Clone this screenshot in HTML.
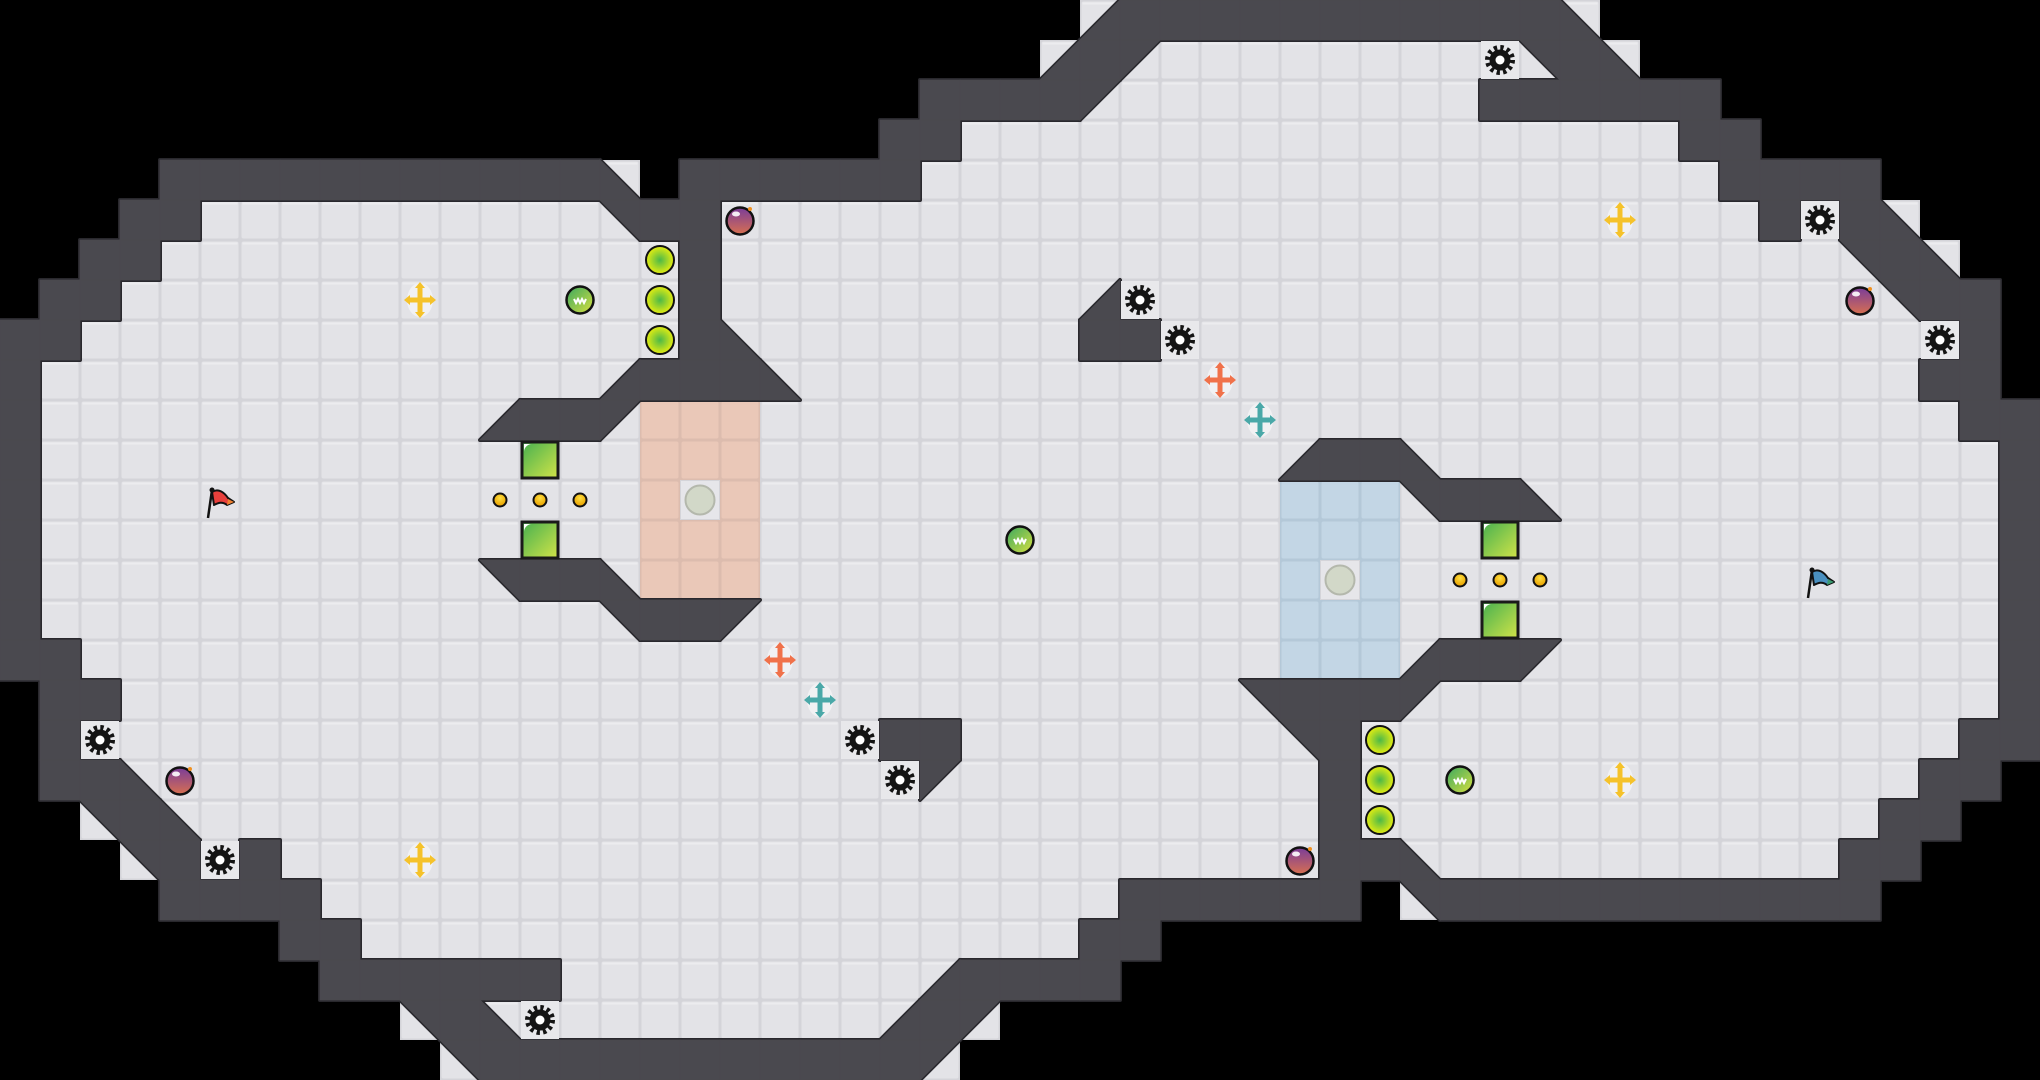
<!DOCTYPE html>
<html><head><meta charset="utf-8">
<style>html,body{margin:0;padding:0;background:#000;}svg{display:block}</style>
</head><body>
<svg id="s" xmlns="http://www.w3.org/2000/svg" width="2040" height="1080" viewBox="0 0 2040 1080">
<defs>
<pattern id="fl" width="40" height="40" patternUnits="userSpaceOnUse">
<rect width="40" height="40" fill="#d4d4d9"/><rect x="1.5" y="1.5" width="37" height="37" rx="2" fill="#e3e3e7"/><rect x="2.5" y="2.5" width="35" height="2" fill="#ececef"/></pattern>
<pattern id="pk" width="40" height="40" patternUnits="userSpaceOnUse">
<rect width="40" height="40" fill="#dcbcae"/><rect x="1.5" y="1.5" width="37" height="37" rx="2" fill="#eac8b8"/></pattern>
<pattern id="bl" width="40" height="40" patternUnits="userSpaceOnUse">
<rect width="40" height="40" fill="#b4c8d8"/><rect x="1.5" y="1.5" width="37" height="37" rx="2" fill="#c3d6e5"/></pattern>
<radialGradient id="yb" cx="50%" cy="50%" r="50%"><stop offset="0" stop-color="#4cb848"/><stop offset="1" stop-color="#e6ee10"/></radialGradient>
<linearGradient id="gb" x1="0" y1="0" x2="1" y2="1"><stop offset="0" stop-color="#3aa860"/><stop offset="1" stop-color="#d8e040"/></linearGradient>
<linearGradient id="bm" x1="0" y1="0" x2="0" y2="1"><stop offset="0" stop-color="#7a3c9a"/><stop offset="1" stop-color="#d87050"/></linearGradient>
<linearGradient id="gk" x1="0" y1="0" x2="1" y2="1"><stop offset="0" stop-color="#46b050"/><stop offset="1" stop-color="#d2e448"/></linearGradient>
<radialGradient id="dt" cx="50%" cy="35%" r="60%"><stop offset="0" stop-color="#ffe040"/><stop offset="1" stop-color="#e8a000"/></radialGradient>
</defs>
<g id="floor"></g><g id="wallS"></g><g id="wallF"></g><g id="items"></g>
</svg>
<script>
var L=[
"                          ",
"                          ",
"                       ###",
"                      ##..",
"    ###########b ######...",
"   ##..........p##........",
"  ##.............#........",
" ##..............#........",
"##...............#b.......",
"#..............d###b......",
"#...........d##qPPP.......",
"#...............PPP.......",
"#...............P.P.......",
"#...............PPP.......",
"#...........p##bPPP.......",
"#..............p##q.......",
"##........................",
" ##.......................",
" #....................##..",
" ##b...................q..",
"  p#b.....................",
"   p#.#...................",
"    ####..................",
"       ##.................",
"        ######.........d##",
"          p#b.........d#q ",
"           p###########q  "];
var RM={q:'d',d:'q',p:'b',b:'p',P:'B'};
function cell(c,r){if(c<=25)return L[r][c]||' ';var ch=L[26-r][50-c]||' ';return RM[ch]||ch;}
var NS="http://www.w3.org/2000/svg";
function el(g,t,a){var e=document.createElementNS(NS,t);for(var k in a)e.setAttribute(k,a[k]);document.getElementById(g).appendChild(e);return e;}
var walls=[];
for(var r=0;r<27;r++)for(var c=0;c<51;c++){
 var ch=cell(c,r),x=c*40,y=r*40;
 if(ch==' ')continue;
 if(ch=='#'){walls.push(x+','+y+' '+(x+40)+','+y+' '+(x+40)+','+(y+40)+' '+x+','+(y+40));continue;}
 var f=ch=='P'?'url(#pk)':ch=='B'?'url(#bl)':'url(#fl)';
 el('floor','rect',{x:x,y:y,width:40,height:40,fill:f});
 if(ch=='q')walls.push(x+','+y+' '+(x+40)+','+y+' '+x+','+(y+40));
 if(ch=='p')walls.push(x+','+y+' '+(x+40)+','+y+' '+(x+40)+','+(y+40));
 if(ch=='b')walls.push(x+','+y+' '+x+','+(y+40)+' '+(x+40)+','+(y+40));
 if(ch=='d')walls.push((x+40)+','+y+' '+(x+40)+','+(y+40)+' '+x+','+(y+40));
}
walls.forEach(function(p){el('wallS','polygon',{points:p,fill:'#29282d',stroke:'#29282d','stroke-width':4,'stroke-linejoin':'round'});});
walls.forEach(function(p){el('wallF','polygon',{points:p,fill:'#4a494f',stroke:'#4a494f','stroke-width':0.8});});
function C(c){return c*40+20;}
function rot(c,r){return [50-c,26-r];}
function yball(c,r){el('items','circle',{cx:C(c),cy:C(r),r:14,fill:'url(#yb)',stroke:'#111','stroke-width':2});}
function gball(c,r){var x=C(c),y=C(r);el('items','circle',{cx:x,cy:y,r:13.5,fill:'url(#gb)',stroke:'#111','stroke-width':2.5});
 el('items','path',{d:'M'+(x-6)+' '+(y-1)+'l2 4l2-4l2 4l2-4l2 4l2-4',fill:'none',stroke:'#fff','stroke-width':2});}
function bomb(c,r){var x=C(c),y=C(r);el('items','circle',{cx:x,cy:y+1,r:13.5,fill:'url(#bm)',stroke:'#111','stroke-width':2.5});
 el('items','ellipse',{cx:x-4,cy:y-6,rx:4,ry:2.5,fill:'#fff',opacity:0.9});el('items','circle',{cx:x+10,cy:y-11,r:2,fill:'#f09020'});}
function gear(c,r){var x=C(c),y=C(r);el('items','rect',{x:x-19,y:y-19,width:38,height:38,fill:'#e8e8eb'});
 el('items','circle',{cx:x,cy:y,r:12.5,fill:'none',stroke:'#141414','stroke-width':5,'stroke-dasharray':'3.3 3.24'});
 el('items','circle',{cx:x,cy:y,r:10.5,fill:'#141414'});el('items','circle',{cx:x,cy:y,r:4.5,fill:'#fff'});}
function cross(c,r,col){var x=C(c),y=C(r);el('items','ellipse',{cx:x,cy:y,rx:13,ry:17,fill:'#f4f4f6',opacity:0.8});
 el('items','path',{d:'M'+x+' '+(y-13)+'V'+(y+13)+'M'+(x-12)+' '+y+'H'+(x+12),stroke:col,'stroke-width':5,fill:'none'});
 el('items','path',{d:'M'+x+' '+(y-18)+'l-5 6h10zM'+x+' '+(y+18)+'l-5-6h10zM'+(x-16)+' '+y+'l6-5v10zM'+(x+16)+' '+y+'l-6-5v10z',fill:col});}
function flag(c,r,col,col2){var x=c*40,y=r*40;
 el('items','path',{d:'M'+(x+12)+' '+(y+12)+'c6-4 12 0 16 6l6 4-7 3c-5-4-9-2-13 0z',fill:col,stroke:'#111','stroke-width':2,'stroke-linejoin':'round'});
 el('items','path',{d:'M'+(x+28)+' '+(y+19)+'l6 3-7 3z',fill:col2});
 el('items','line',{x1:x+8,y1:y+38,x2:x+12,y2:y+10,stroke:'#111','stroke-width':2.5});el('items','circle',{cx:x+12,cy:y+10,r:2.5,fill:'#111'});}
function gblock(c,r){var x=c*40,y=r*40;el('items','rect',{x:x+2,y:y+2,width:36,height:36,fill:'url(#gk)',stroke:'#1a1a1a','stroke-width':3});
 el('items','path',{d:'M'+(x+4)+' '+(y+12)+'a8 8 0 0 1 8-8h-8z',fill:'#fff'});}
function dot(c,r){el('items','circle',{cx:C(c),cy:C(r),r:6.5,fill:'url(#dt)',stroke:'#111','stroke-width':2});}
function gcirc(c,r){el('items','rect',{x:c*40+1,y:r*40+1,width:38,height:38,fill:'#e6e6ea'});el('items','circle',{cx:C(c),cy:C(r),r:14.5,fill:'#d2d8c8',stroke:'#b4b8ac','stroke-width':2});}
function both(fn,c,r){var a=Array.prototype.slice.call(arguments,3);fn.apply(null,[c,r].concat(a));var q=rot(c,r);fn.apply(null,[q[0],q[1]].concat(a));}
[6,7,8].forEach(function(r){both(yball,16,r);});
both(gball,14,7);gball(25,13);
both(cross,10,7,'#f5c22a');both(cross,10,21,'#f5c22a');
both(bomb,18,5);both(bomb,4,19);
[[2,18],[5,21],[13,25],[21,18],[22,19]].forEach(function(p){both(gear,p[0],p[1]);});
both(gblock,13,11);both(gblock,13,13);
[12,13,14].forEach(function(c){both(dot,c,12);});
both(gcirc,17,12);
cross(19,16,'#f0714a');cross(20,17,'#4aa8a8');cross(30,9,'#f0714a');cross(31,10,'#4aa8a8');
flag(5,12,'#e8403c','#f08030');flag(45,14,'#4a90c0','#3a9a70');
</script>
</body></html>
